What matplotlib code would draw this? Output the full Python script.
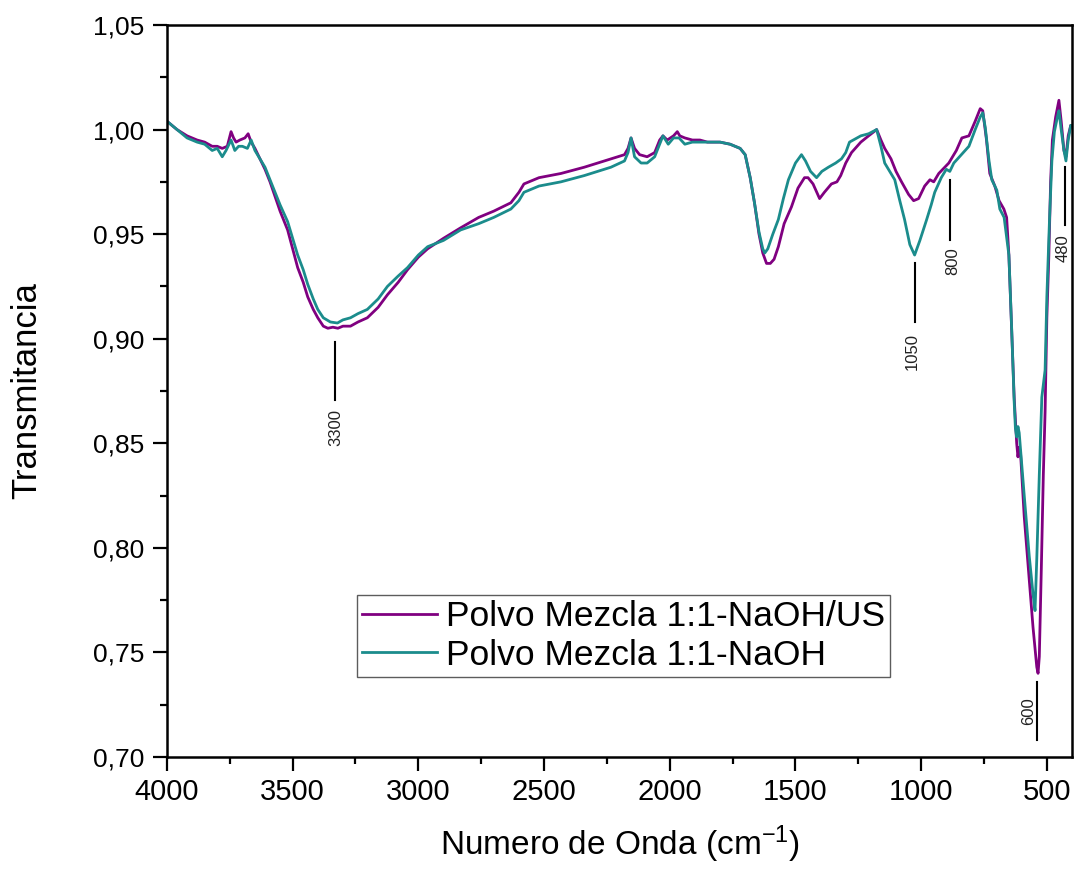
import matplotlib
matplotlib.use("Agg")
import matplotlib.pyplot as plt
from matplotlib import font_manager
from matplotlib.ticker import MultipleLocator, FixedLocator, FixedFormatter

# ---- fonts ----
names = {f.name for f in font_manager.fontManager.ttflist}
WIDE = "Liberation Sans" if "Liberation Sans" in names else "DejaVu Sans"
NARROW = "Liberation Sans Narrow" if "Liberation Sans Narrow" in names else WIDE
HAS_NARROW = NARROW != WIDE
plt.rcParams["font.family"] = [WIDE, "DejaVu Sans"]
plt.rcParams["mathtext.fontset"] = "custom"
plt.rcParams["mathtext.rm"] = NARROW
plt.rcParams["mathtext.it"] = NARROW

# ---- data ----
wn_us = [4000, 3960, 3920, 3880, 3850, 3820, 3800, 3780, 3760, 3745, 3735, 3725,
         3710, 3690, 3677, 3665, 3650, 3630, 3610, 3590, 3570, 3550, 3520, 3500,
         3480, 3458, 3440, 3418, 3400, 3378, 3360, 3340, 3320, 3300, 3270, 3240,
         3203, 3160, 3123, 3080, 3043, 3000, 2963, 2900, 2832, 2760, 2700, 2632,
         2600, 2580, 2520, 2433, 2340, 2234, 2180, 2166, 2154, 2140, 2120, 2090,
         2060, 2040, 2027, 2010, 1985, 1970, 1960, 1940, 1910, 1880, 1850, 1800,
         1760, 1720, 1700, 1680, 1663, 1645, 1630, 1615, 1600, 1585, 1568, 1545,
         1516, 1490, 1464, 1450, 1430, 1404, 1385, 1357, 1335, 1320, 1300, 1277,
         1240, 1209, 1177, 1160, 1145, 1120, 1100, 1078, 1050, 1030, 1010, 986,
         965, 950, 930, 890, 860, 838, 810, 785, 765, 755, 740, 727, 707, 690,
         671, 660, 651, 640, 630, 620, 615, 610, 605, 590, 570, 555, 540, 535,
         530, 522, 514, 507, 500, 492, 485, 478, 465, 452, 443, 432, 424, 415,
         405, 400]
tr_us = [1.004, 1.000, 0.997, 0.995, 0.994, 0.992, 0.992, 0.991, 0.992, 0.999, 0.996, 0.994,
         0.995, 0.996, 0.998, 0.994, 0.991, 0.986, 0.981, 0.975, 0.968, 0.961, 0.952, 0.943,
         0.934, 0.927, 0.920, 0.914, 0.910, 0.906, 0.905, 0.9055, 0.905, 0.906, 0.906, 0.908,
         0.910, 0.915, 0.921, 0.927, 0.933, 0.939, 0.943, 0.948, 0.953, 0.958, 0.961, 0.965,
         0.970, 0.974, 0.977, 0.979, 0.982, 0.986, 0.988, 0.991, 0.996, 0.991, 0.988, 0.987,
         0.989, 0.995, 0.997, 0.995, 0.997, 0.999, 0.997, 0.996, 0.995, 0.995, 0.994, 0.994,
         0.993, 0.991, 0.988, 0.977, 0.965, 0.950, 0.941, 0.936, 0.936, 0.938, 0.944, 0.955,
         0.963, 0.972, 0.977, 0.977, 0.974, 0.967, 0.970, 0.974, 0.975, 0.978, 0.984, 0.989,
         0.994, 0.997, 1.000, 0.995, 0.991, 0.986, 0.980, 0.975, 0.969, 0.966, 0.967, 0.973,
         0.976, 0.975, 0.979, 0.984, 0.990, 0.996, 0.997, 1.004, 1.010, 1.009, 0.995, 0.979,
         0.973, 0.966, 0.962, 0.958, 0.940, 0.905, 0.872, 0.850, 0.8435, 0.848, 0.846, 0.815,
         0.785, 0.762, 0.743, 0.740, 0.748, 0.790, 0.835, 0.865, 0.910, 0.940, 0.975, 0.995,
         1.006, 1.014, 1.004, 0.990, 0.987, 0.997, 1.002, 1.002]

wn_naoh = [4000, 3960, 3920, 3880, 3850, 3820, 3800, 3780, 3765, 3745, 3730, 3715,
           3700, 3680, 3665, 3650, 3630, 3610, 3590, 3570, 3550, 3520, 3500, 3480,
           3458, 3440, 3418, 3400, 3378, 3350, 3322, 3300, 3270, 3240, 3203, 3160,
           3123, 3080, 3043, 3000, 2963, 2900, 2832, 2760, 2700, 2632, 2600, 2580,
           2520, 2433, 2340, 2234, 2180, 2166, 2154, 2140, 2114, 2090, 2060, 2040,
           2027, 2006, 1985, 1963, 1940, 1910, 1880, 1850, 1800, 1760, 1720, 1700,
           1680, 1663, 1645, 1630, 1622, 1610, 1590, 1568, 1548, 1528, 1500, 1476,
           1460, 1440, 1416, 1395, 1369, 1340, 1317, 1300, 1285, 1240, 1209, 1177,
           1160, 1145, 1125, 1105, 1085, 1066, 1045, 1026, 1005, 978, 960, 946,
           920, 900, 886, 870, 840, 810, 785, 765, 755, 745, 730, 719, 699, 687,
           670, 651, 640, 630, 625, 620, 615, 610, 590, 570, 555, 547, 540, 530,
           520, 507, 500, 490, 480, 470, 458, 452, 443, 432, 424, 415, 405, 400]
tr_naoh = [1.004, 1.000, 0.996, 0.994, 0.993, 0.990, 0.991, 0.987, 0.990, 0.995, 0.990, 0.992,
           0.992, 0.991, 0.995, 0.990, 0.986, 0.982, 0.976, 0.970, 0.964, 0.956, 0.948, 0.940,
           0.933, 0.926, 0.919, 0.914, 0.910, 0.908, 0.9075, 0.909, 0.910, 0.912, 0.914, 0.919,
           0.925, 0.930, 0.934, 0.940, 0.944, 0.947, 0.952, 0.955, 0.958, 0.962, 0.966, 0.970,
           0.973, 0.975, 0.978, 0.982, 0.985, 0.989, 0.996, 0.987, 0.984, 0.984, 0.987, 0.993,
           0.997, 0.993, 0.996, 0.996, 0.993, 0.994, 0.994, 0.994, 0.994, 0.993, 0.991, 0.988,
           0.977, 0.965, 0.951, 0.943, 0.941, 0.943, 0.950, 0.957, 0.967, 0.976, 0.984, 0.988,
           0.985, 0.980, 0.977, 0.980, 0.982, 0.984, 0.986, 0.989, 0.994, 0.997, 0.998, 1.000,
           0.992, 0.984, 0.980, 0.976, 0.966, 0.957, 0.945, 0.940, 0.947, 0.957, 0.964, 0.970,
           0.977, 0.981, 0.980, 0.984, 0.988, 0.992, 1.000, 1.006, 1.008, 1.001, 0.985, 0.976,
           0.971, 0.962, 0.958, 0.940, 0.905, 0.870, 0.857, 0.853, 0.858, 0.855, 0.825, 0.796,
           0.778, 0.770, 0.795, 0.835, 0.872, 0.885, 0.920, 0.955, 0.985, 0.999, 1.006, 1.009,
           1.000, 0.990, 0.985, 0.995, 1.002, 1.002]

labels = ["Polvo Mezcla 1:1-NaOH/US", "Polvo Mezcla 1:1-NaOH"]
colors = ["#800080", "#1b8c8c"]

y_ticks = [0.70, 0.75, 0.80, 0.85, 0.90, 0.95, 1.00, 1.05]
y_tick_labels = ["0,70", "0,75", "0,80", "0,85", "0,90", "0,95", "1,00", "1,05"]
x_ticks = [4000, 3500, 3000, 2500, 2000, 1500, 1000, 500]

# band marks: (label, x of line, line bottom, line top, text x, text y)
bands = [("3300", 3330, 0.8707, 0.8985, 3330, 0.8574),
         ("1050", 1026, 0.9080, 0.9362, 1034, 0.8937),
         ("800", 884, 0.9472, 0.9759, 876, 0.9372),
         ("480", 428, 0.9544, 0.9821, 434, 0.9434),
         ("600", 539, 0.7082, 0.7360, 571, 0.7220)]

# ---- figure ----
fig = plt.figure(figsize=(10.75, 8.71), dpi=100)
ax = fig.add_axes([0.1553, 0.1309, 0.8419, 0.8404])

ax.plot(wn_us, tr_us, color=colors[0], lw=2.0, label=labels[0])
ax.plot(wn_naoh, tr_naoh, color=colors[1], lw=2.0, label=labels[1])

for name, xl, y0, y1, xt, yt in bands:
    ax.plot([xl, xl], [y0, y1], color="black", lw=1.5)
    ax.text(xt, yt, name, rotation=90, ha="center", va="center",
            fontsize=12, family=[NARROW, "DejaVu Sans"], color="#222222")

ax.set_xlim(4000, 400)
ax.set_ylim(0.70, 1.05)

ax.xaxis.set_major_locator(FixedLocator(x_ticks))
ax.xaxis.set_minor_locator(MultipleLocator(250))
ax.yaxis.set_major_locator(FixedLocator(y_ticks))
ax.yaxis.set_major_formatter(FixedFormatter(y_tick_labels))
ax.yaxis.set_minor_locator(MultipleLocator(0.025))

ax.tick_params(which="both", direction="out", width=1.6, top=False, right=False)
ax.tick_params(which="major", length=10)
ax.tick_params(which="minor", length=5)
ax.tick_params(axis="y", labelsize=19, pad=6)
ax.tick_params(axis="x", labelsize=25 if HAS_NARROW else 21, pad=5)
for t in ax.get_xticklabels():
    t.set_family([NARROW, "DejaVu Sans"])
for s in ax.spines.values():
    s.set_linewidth(1.8)

ax.set_ylabel("Transmitancia", fontsize=25, labelpad=36)
ax.set_xlabel("Numero de Onda (cm$^{-1}$)", fontsize=29 if HAS_NARROW else 24,
              labelpad=13, family=[NARROW, "DejaVu Sans"])

leg = ax.legend(loc="upper left", bbox_to_anchor=(0.21, 0.2213), fontsize=25.5,
                frameon=True, fancybox=False, edgecolor="#333333",
                borderpad=0.15, borderaxespad=0, handlelength=2.1,
                handletextpad=0.25, labelspacing=0.15)
leg.get_frame().set_linewidth(1.0)
for line in leg.get_lines():
    line.set_linewidth(2.0)

fig.savefig("out.png", dpi=100)
